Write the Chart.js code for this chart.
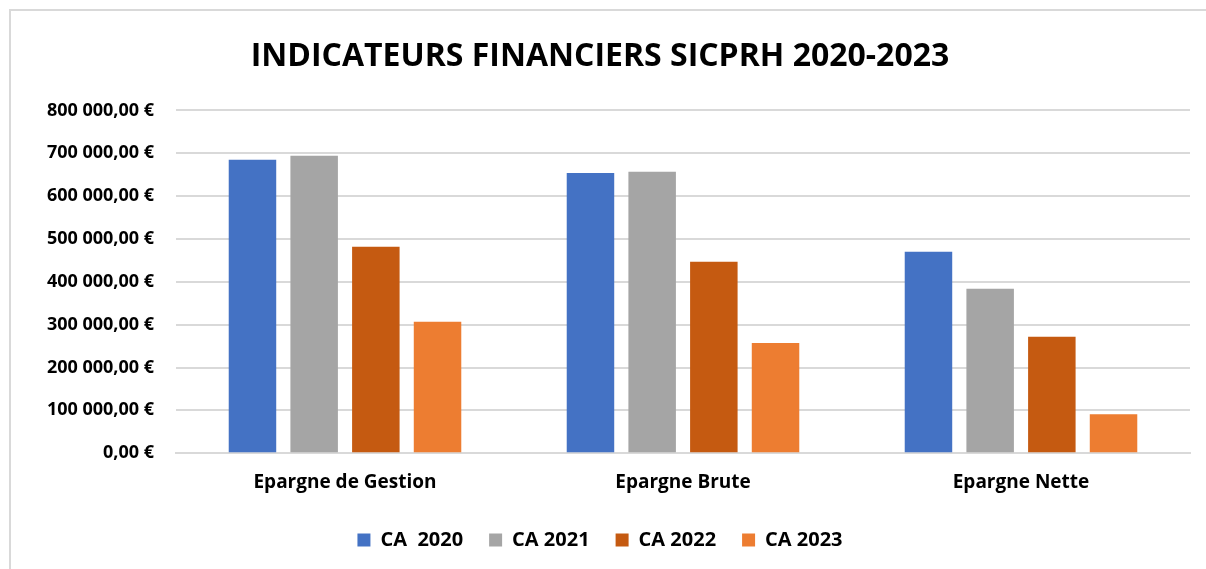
<!DOCTYPE html>
<html>
<head>
<meta charset="utf-8">
<script src="https://cdn.jsdelivr.net/npm/chart.js@4"></script>
<style>
  html, body { margin:0; padding:0; background:#fff; }
  #wrap { position:relative; width:1206px; height:569px; }
  #frame { position:absolute; left:9px; top:9px; width:1200px; height:570px; border:2px solid #d9d9d9; box-sizing:border-box; }
  canvas { position:absolute; left:0; top:0; }
</style>
</head>
<body>
<div id="wrap">
  <div id="frame"></div>
  <canvas id="chart" width="1206" height="569"></canvas>
</div>
<script>
const categories = ['Epargne de Gestion', 'Epargne Brute', 'Epargne Nette'];
const seriesLabels = ['CA  2020', 'CA 2021', 'CA 2022', 'CA 2023'];
const ca2020 = [685000, 654000, 470000];
const ca2021 = [694000, 657000, 384000];
const ca2022 = [482000, 447000, 272000];
const ca2023 = [307000, 257000, 91000];
const colors = ['#4472C4', '#A5A5A5', '#C55A11', '#ED7D31'];

const FONT = '"Open Sans", "Liberation Sans", sans-serif';

function euro(v) {
  const s = Math.round(v).toString().replace(/\B(?=(\d{3})+(?!\d))/g, ' ');
  return s + ',00 €';
}

const allSeries = [ca2020, ca2021, ca2022, ca2023];

new Chart(document.getElementById('chart'), {
  type: 'bar',
  data: {
    labels: categories,
    datasets: allSeries.map((d, i) => ({
      label: seriesLabels[i],
      data: d,
      backgroundColor: colors[i],
      borderWidth: 0,
      categoryPercentage: 0.73,
      barPercentage: 0.77
    }))
  },
  options: {
    responsive: false,
    animation: false,
    layout: { padding: { left: 10, right: 16, top: 8, bottom: 9 } },
    plugins: {
      title: {
        display: true,
        text: 'INDICATEURS FINANCIERS SICPRH 2020-2023',
        color: '#000',
        font: { family: FONT, size: 32, weight: 'bold' },
        padding: { top: 30, bottom: 34 }
      },
      legend: {
        position: 'bottom',
        labels: {
          color: '#000',
          font: { family: FONT, size: 20, weight: 'bold' },
          boxWidth: 13, boxHeight: 13, padding: 26
        }
      },
      tooltip: { enabled: false }
    },
    scales: {
      x: {
        grid: { display: false },
        border: { color: '#d9d9d9', width: 2 },
        ticks: { color: '#000', font: { family: FONT, size: 19, weight: 'bold' }, padding: 10 }
      },
      y: {
        min: 0, max: 800000,
        afterFit: s => { s.width = 166; },
        ticks: { stepSize: 100000, color: '#000', font: { family: FONT, size: 18, weight: 'bold' }, padding: 22, callback: v => euro(v) },
        grid: { color: '#d9d9d9', lineWidth: 2, drawTicks: false },
        border: { display: false }
      }
    }
  }
});
</script>
</body>
</html>
